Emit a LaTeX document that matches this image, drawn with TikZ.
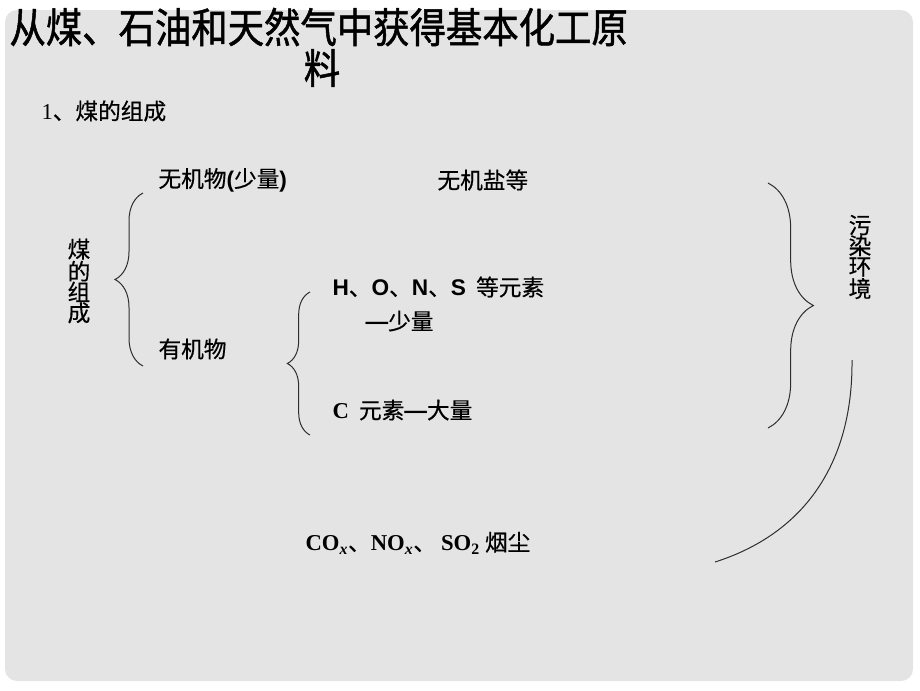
\documentclass[tikz,border=0pt]{standalone}
\usepackage{fontspec}
\setmainfont{Noto Sans CJK SC}[FakeBold=0.5]
\newfontfamily\titlef[FakeStretch=0.88,FakeBold=1.2]{Noto Sans CJK SC}
\newfontfamily\arialf{Liberation Sans}
\newfontfamily\timesf{Liberation Serif}
\usetikzlibrary{decorations.pathreplacing}

\definecolor{slidegray}{RGB}{228,228,228}
\definecolor{inkgray}{RGB}{45,45,45}

\tikzset{every picture/.style={line width=0.75pt}}
\tikzset{
  txt/.style={anchor=west,inner sep=0.75pt,font=\fontsize{17}{20}\selectfont},
  vtxt/.style={align=center,inner sep=0.75pt,font=\fontsize{17}{15.5}\selectfont},
  curly/.style={decorate,decoration={brace,amplitude=#1},color=inkgray,line width=0.75pt},
}

\begin{document}
\begin{tikzpicture}[x=0.75pt,y=0.75pt,yscale=-1,xscale=1]
\useasboundingbox (0,0) rectangle (920,690);

%Slide background
\fill [slidegray, rounded corners=9pt] (5,10) rectangle (913,681);

% Title Nodes
\node (title1) [anchor=west,inner sep=0.75pt,font=\titlef\fontsize{31}{34}\selectfont] at (8,27) {从煤、石油和天然气中获得基本化工原};
\node (title2) [inner sep=0.75pt,font=\titlef\fontsize{31}{34}\selectfont] at (322,68) {料};
% Text Node
\node (sect) [txt] at (40,111) {{\timesf 1}、煤的组成};

% Text Node
\node (coal) [vtxt] at (79,281) {煤\\的\\组\\成};
% Text Node
\node (inorg) [txt] at (157,180) {无机物{\arialf\bfseries (}少量{\arialf\bfseries )}};
% Text Node
\node (salt) [txt] at (436,180) {无机盐等};
% Text Node
\node (org) [txt] at (157,349) {有机物};
% Text Node
\node (hons) [txt] at (331,287) {{\arialf\bfseries H}、{\arialf\bfseries O}、{\arialf\bfseries N}、{\arialf\bfseries S}\ \ 等元素};
% Text Node
\node (less) [txt] at (364,321) {{\arialf\bfseries —}少量};
% Text Node
\node (carb) [txt] at (331,410) {{\timesf\bfseries C}\ \ 元素{\arialf\bfseries —}大量};
% Text Node
\node (poll) [vtxt] at (860,257) {污\\染\\环\\境};
% Text Node
\node (gas) [txt] at (304,543) {{\timesf\bfseries CO\textsubscript{\itshape x}}、{\timesf\bfseries NO\textsubscript{\itshape x}}、\ {\timesf\bfseries SO\textsubscript{2}}\ 烟尘};

%Braces
\coordinate (b1t) at (143,193);
\coordinate (b1b) at (143,366);
\coordinate (b2t) at (310,292);
\coordinate (b2b) at (310,435);
\coordinate (b3t) at (768,183);
\coordinate (b3b) at (768,428);
\draw [curly=21pt] (b1b) -- (b1t);
\draw [curly=17pt] (b2b) -- (b2t);
\draw [curly=34pt] (b3t) -- (b3b);

%Curve Lines
\coordinate (arcT) at (852,360);
\coordinate (arcB) at (715,562);
\draw [color=inkgray] (arcT) .. controls (853,468) and (800,535) .. (arcB);

\end{tikzpicture}
\end{document}
